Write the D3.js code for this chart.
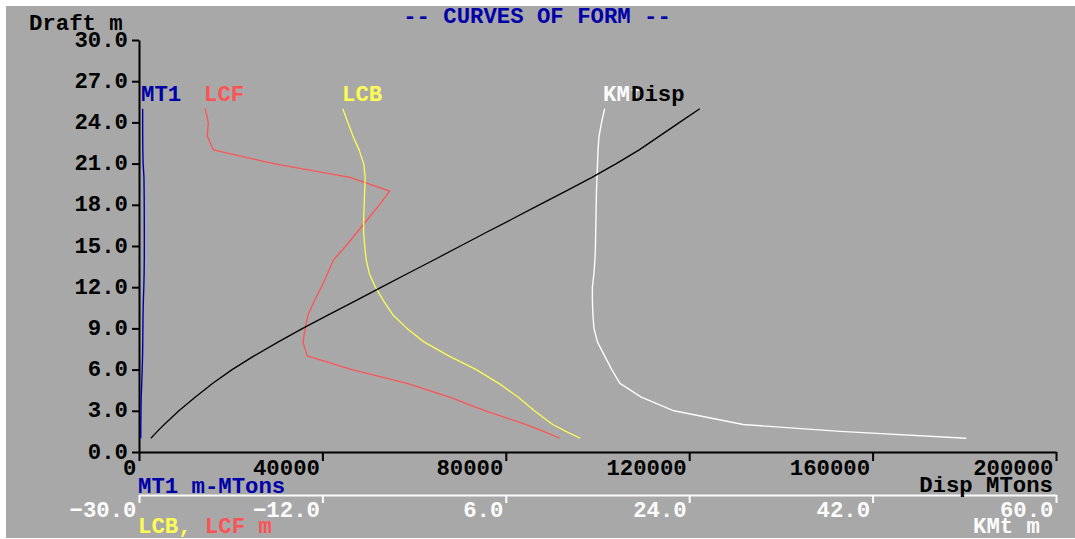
<!DOCTYPE html>
<html>
<head>
<meta charset="utf-8">
<script src="https://cdn.jsdelivr.net/npm/d3@7"></script>
<style>
  html, body { margin: 0; padding: 0; background: #ffffff; }
  svg { display: block; }
  text { font-family: "Liberation Mono", "DejaVu Sans Mono", monospace; font-weight: bold; font-size: 22.3px; }
</style>
</head>
<body>
<svg id="chart" width="1075" height="539"></svg>
<script>
// Hydrostatic curves of form, sampled at each draft (m)
const drafts = [1, 1.5, 2, 3, 4, 5, 6, 7, 8, 9, 10, 11, 12, 13, 14, 15, 16, 17, 18, 19, 20, 21, 22, 23, 24, 25];

// Displacement, MTons
const disp = [2600, 4000, 5500, 8700, 12300, 16100, 20300, 25100, 30300, 35700, 41400, 47200, 52900,
              58600, 64400, 70100, 75800, 81600, 87300, 93100, 98800, 104100, 109100, 113500, 117900, 122300];

// Moment to trim 1 m, m-MTons
const mt1 = [380, 390, 400, 430, 480, 600, 700, 780, 820, 850, 880, 950, 1050,
             1120, 1150, 1160, 1160, 1150, 1140, 1120, 1080, 900, 830, 810, 800, 800];

// Longitudinal centre of buoyancy, m
const lcb = [13.3, 11.9, 10.6, 8.8, 7.2, 5.3, 3.1, 0.4, -2.0, -3.7, -5.1, -6.0, -6.8,
             -7.4, -7.7, -7.85, -7.95, -7.95, -7.9, -7.85, -7.8, -7.95, -8.4, -9.0, -9.5, -10.0];

// Longitudinal centre of flotation, m
const lcf = [11.3, 9.7, 8.0, 4.0, 0.5, -3.7, -9.1, -13.5, -13.9, -13.7, -13.4, -12.8, -12.1,
             -11.5, -10.9, -9.7, -8.6, -7.5, -6.4, -5.4, -9.3, -16.8, -22.7, -23.3, -23.2, -23.5];

// Transverse metacentre height above keel, m
const kmt = [51.2, 38.8, 29.3, 22.5, 19.3, 17.2, 16.4, 15.7, 15.0, 14.65, 14.55, 14.5, 14.5,
             14.65, 14.75, 14.8, 14.82, 14.85, 14.87, 14.9, 14.95, 15.0, 15.05, 15.15, 15.4, 15.7];

// Tick values
const draftTicks = [0, 3, 6, 9, 12, 15, 18, 21, 24, 27, 30];
const dispTicks = [0, 40000, 80000, 120000, 160000, 200000];
const lenTicks = [-30, -12, 6, 24, 42, 60];

const C = {
  bg: "#a8a8a8",
  blue: "#0000a8",
  red: "#fc5454",
  yellow: "#fcfc54",
  white: "#fcfcfc",
  black: "#000000"
};

const svg = d3.select("#chart");

svg.append("rect").attr("x", 6).attr("y", 6).attr("width", 1069).attr("height", 532).attr("fill", C.bg);

const y = d3.scaleLinear().domain([0, 30]).range([452, 40]);
const xDisp = d3.scaleLinear().domain([0, 200000]).range([139, 1056]);
const xLen = d3.scaleLinear().domain([-30, 60]).range([139, 1056]);

function styleAxis(g, color) {
  g.attr("font-family", null).attr("font-size", null);
  g.selectAll("path.domain").attr("stroke", color).attr("stroke-width", 2);
  g.selectAll(".tick line").attr("stroke", color).attr("stroke-width", 2);
  g.selectAll(".tick text").attr("fill", color);
}

// Draft axis
const gy = svg.append("g").attr("transform", "translate(139,0)")
  .call(d3.axisLeft(y).tickValues(draftTicks).tickFormat(d3.format(".1f")).tickSize(7).tickSizeOuter(0));
styleAxis(gy, C.black);
gy.selectAll(".tick text").attr("x", -11).attr("dy", "6");

// Displacement / MT1 axis
const gx = svg.append("g").attr("transform", "translate(0,452)")
  .call(d3.axisBottom(xDisp).tickValues(dispTicks).tickFormat(d3.format("d")).tickSize(9).tickSizeOuter(0));
styleAxis(gx, C.black);
gx.selectAll(".tick text").attr("text-anchor", "end").attr("x", -3).attr("y", 23).attr("dy", 0);

// LCB / LCF / KMt axis
const gl = svg.append("g").attr("transform", "translate(0,495)")
  .call(d3.axisBottom(xLen).tickValues(lenTicks).tickFormat(d3.format(".1f")).tickSize(8).tickSizeOuter(0));
styleAxis(gl, C.white);
gl.selectAll(".tick text").attr("text-anchor", "end").attr("x", -3).attr("y", 22).attr("dy", 0);

// Curves
const rows = drafts.map((d, i) => ({ d, disp: disp[i], mt1: mt1[i], lcb: lcb[i], lcf: lcf[i], kmt: kmt[i] }));

function curve(key, xs, color, w) {
  const line = d3.line().x(r => xs(r[key])).y(r => y(r.d));
  svg.append("path").datum(rows).attr("d", line)
    .attr("fill", "none").attr("stroke", color).attr("stroke-width", w)
    .attr("stroke-linejoin", "round");
}
curve("mt1", xDisp, C.blue, 1.4);
curve("lcf", xLen, C.red, 1.3);
curve("lcb", xLen, C.yellow, 1.3);
curve("kmt", xLen, C.white, 1.4);
curve("disp", xDisp, C.black, 1.3);

// Labels
function label(txt, x, yy, color, anchor) {
  svg.append("text").attr("x", x).attr("y", yy).attr("fill", color)
    .attr("text-anchor", anchor || "start").text(txt);
}
label("-- CURVES OF FORM --", 537, 23, C.blue, "middle");
label("Draft m", 29, 30, C.black);

label("MT1", 141, 101, C.blue);
label("LCF", 204, 101, C.red);
label("LCB", 342, 101, C.yellow);
label("KMt", 603, 101, C.white);
label("Disp", 631, 101, C.black);

label("MT1 m-MTons", 138, 493, C.blue);
label("Disp MTons", 1053, 492, C.black, "end");

const lt = svg.append("text").attr("x", 138).attr("y", 533);
lt.append("tspan").attr("fill", C.yellow).text("LCB, ");
lt.append("tspan").attr("fill", C.red).text("LCF m");

label("KMt m", 973, 533, C.white);
</script>
</body>
</html>
